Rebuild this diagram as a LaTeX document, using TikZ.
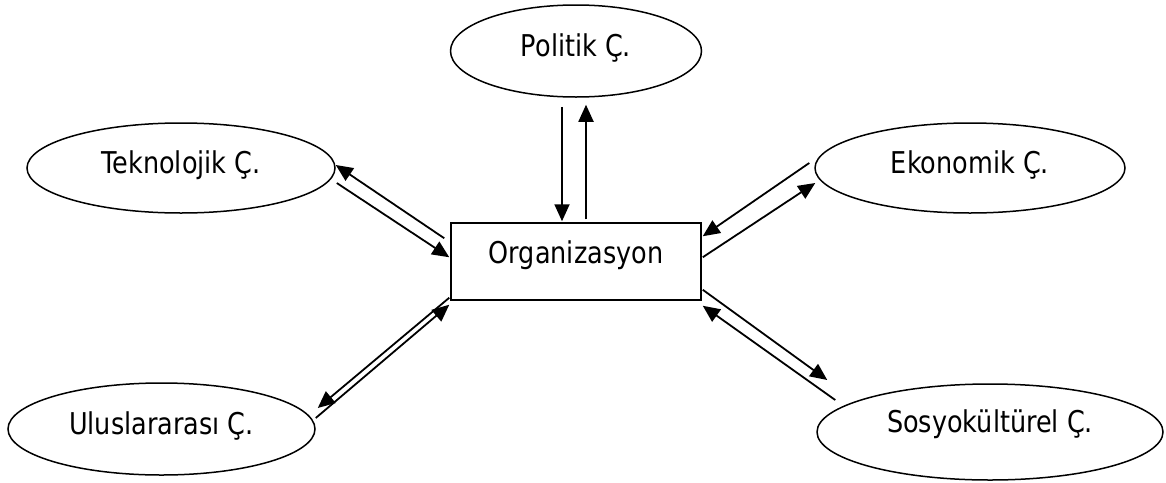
\documentclass[tikz,border=0pt]{standalone}
\usepackage{fontspec}
\setmainfont{DejaVu Sans}[FakeStretch=0.85]
\usetikzlibrary{shapes.geometric,arrows.meta}
\begin{document}
\begin{tikzpicture}[x=1pt,y=-1pt,
    cevre/.style={shape=ellipse,draw=black,line width=1.5pt,inner sep=0pt,
        font=\fontsize{30}{35}\selectfont,text height=22pt,text depth=11pt},
    kutu/.style={shape=rectangle,draw=black,line width=1.5pt,inner sep=0pt,
        font=\fontsize{30}{35}\selectfont,text height=22pt,text depth=18pt},
    ok/.style={line width=1.8pt,-{Triangle[length=17pt,width=15pt]}}]
                \useasboundingbox (0,0) rectangle (1166,482);

                \node[kutu,minimum width=250pt,minimum height=77pt] (0) at (576,261.5) {Organizasyon};
                \node[cevre,minimum width=251pt,minimum height=92pt] (1) at (576,51) {Politik Ç.};
                \node[cevre,minimum width=308pt,minimum height=90pt] (2) at (181,168) {Teknolojik Ç.};
                \node[cevre,minimum width=310pt,minimum height=90pt] (3) at (970,168) {Ekonomik Ç.};
                \node[cevre,minimum width=307pt,minimum height=92pt] (4) at (161.5,429) {Uluslararası Ç.};
                \node[cevre,minimum width=346pt,minimum height=96pt,text depth=21pt] (5) at (990,432) {Sosyokültürel Ç.};

                \draw[ok] ([shift={(-14,9)}]1.south) -- ([shift={(-14,-1)}]0.north);
                \draw[ok] ([shift={(10,-3)}]0.north) -- ([shift={(10,7)}]1.south);

                \draw[ok] ([shift={(-6,16)}]0.north west) -- ([shift={(0,-3)}]2.east);
                \draw[ok] ([shift={(1,15)}]2.east) -- ([shift={(-1,35)}]0.north west);

                \draw[ok] ([shift={(-5,-5)}]3.west) -- ([shift={(1,14)}]0.north east);
                \draw[ok] ([shift={(1,35)}]0.north east) -- ([shift={(1,15)}]3.west);

                \draw[ok] ([shift={(-1,-3)}]0.south west) -- ([shift={(2,-21)}]4.east);
                \draw[ok] ([shift={(0,-11)}]4.east) -- ([shift={(-1,4)}]0.south west);

                \draw[ok] ([shift={(1,-11)}]0.south east) -- ([shift={(11,-52)}]5.west);
                \draw[ok] ([shift={(19,-32)}]5.west) -- ([shift={(1,5)}]0.south east);
\end{tikzpicture}
\end{document}
